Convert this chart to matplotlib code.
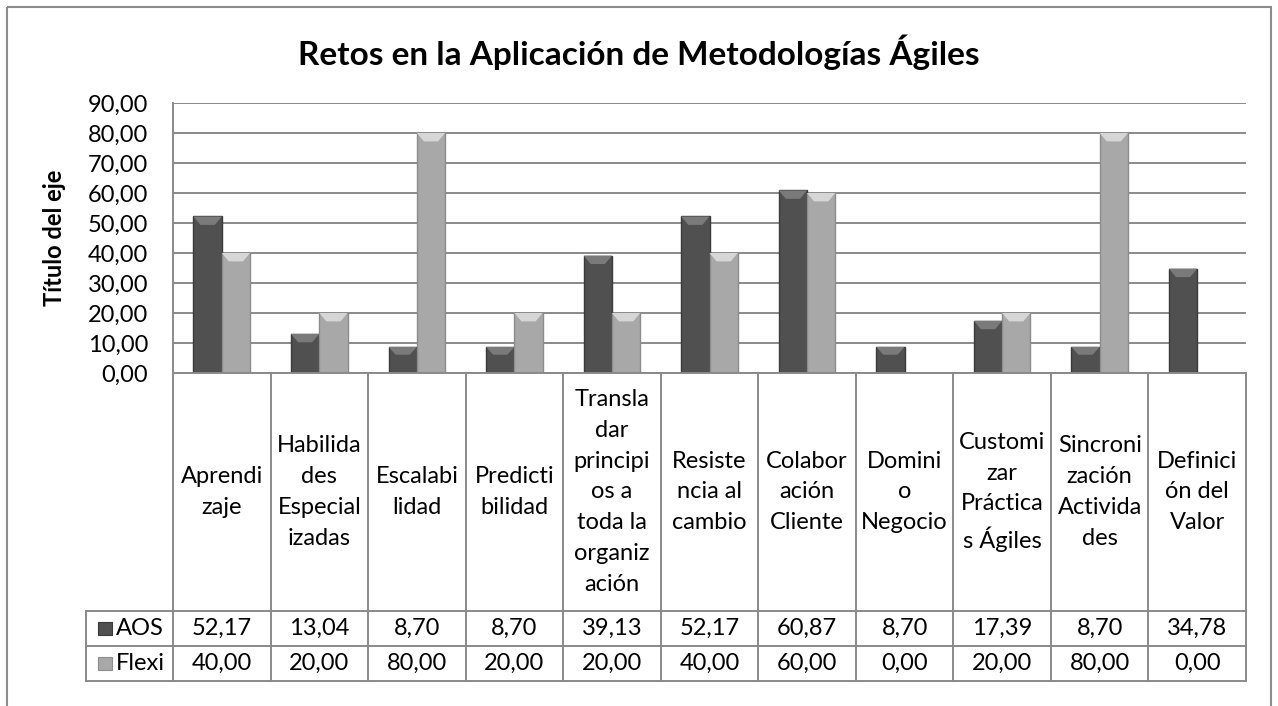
import numpy as np
import matplotlib.pyplot as plt
from matplotlib.patches import Rectangle, Polygon

plt.rcParams['font.family'] = ['Lato', 'DejaVu Sans']

categories = ["Aprendi\nzaje", "Habilida\ndes\nEspecial\nizadas", "Escalabi\nlidad",
              "Predicti\nbilidad", "Transla\ndar\nprincipi\nos a\ntoda la\norganiz\nación",
              "Resiste\nncia al\ncambio", "Colabor\nación\nCliente", "Domini\no\nNegocio",
              "Customi\nzar\nPráctica\ns Ágiles", "Sincroni\nzación\nActivida\ndes",
              "Definici\nón del\nValor"]
series_names = ["AOS", "Flexi"]
aos = [52.17, 13.04, 8.70, 8.70, 39.13, 52.17, 60.87, 8.70, 17.39, 8.70, 34.78]
flexi = [40.00, 20.00, 80.00, 20.00, 20.00, 40.00, 60.00, 0.00, 20.00, 80.00, 0.00]
yticks = np.arange(0, 91, 10)

colors = ["#505050", "#a8a8a8"]
edges = ["#3a3a3a", "#8c8c8c"]
tops = ["#7a7a7a", "#d6d6d6"]
line_col = "#8a8a8a"
fs = 17

W, H = 1278, 706
fig = plt.figure(figsize=(W / 100, H / 100), dpi=100)

# plot area (pixel layout of the reference)
px_l, px_r, px_t, px_b = 173, 1246, 103, 373
ax = fig.add_axes([px_l / W, 1 - px_b / H, (px_r - px_l) / W, (px_b - px_t) / H])
n = len(categories)
x = np.arange(n)
ax.set_xlim(-0.5, n - 0.5)
ax.set_ylim(0, 90)
ax.set_yticks(yticks)
ax.set_yticklabels([f"{v:.2f}".replace(".", ",") for v in yticks], fontsize=fs)
ax.tick_params(axis="y", length=0, pad=18)
ax.set_xticks([])
ax.grid(axis="y", color=line_col, linewidth=1.4)
ax.set_axisbelow(True)
for s in ["top", "right", "bottom"]:
    ax.spines[s].set_visible(False)
ax.spines["left"].set_color(line_col)
ax.spines["left"].set_linewidth(1.4)

bw = 0.29
for i, vals in enumerate([aos, flexi]):
    off = (i - 0.5) * bw
    bars = ax.bar(x + off, vals, bw, color=colors[i], edgecolor=edges[i],
                  linewidth=1, zorder=3)
    # bevelled top, like the Excel 3D style
    for b in bars:
        h = b.get_height()
        if h <= 0:
            continue
        x0, w = b.get_x(), b.get_width()
        bev = min(2.8, h * 0.3)
        ax.add_patch(Polygon([(x0, h), (x0 + w, h), (x0 + w * 0.75, h - bev),
                              (x0 + w * 0.25, h - bev)], closed=True,
                             facecolor=tops[i], edgecolor="none", zorder=4))

fig.text(55 / W, 1 - 238 / H, "Título del eje", rotation=90, ha="center", va="center",
         fontsize=17, fontweight="bold")

fig.text(0.5, 1 - 52 / H, "Retos en la Aplicación de Metodologías Ágiles",
         ha="center", va="center", fontsize=24, fontweight="bold")

# overlay in pixel coordinates for the data table
ov = fig.add_axes([0, 0, 1, 1], zorder=5)
ov.set_xlim(0, W)
ov.set_ylim(H, 0)
ov.axis("off")
ov.patch.set_visible(False)

# outer chart border
ov.add_patch(Rectangle((7, 7), 1264, 720, fill=False, edgecolor="#8c8c8c", linewidth=1.5))

col_edges = [ax.transData.transform((i - 0.5, 0))[0] for i in range(n + 1)]
row_cat_bot, row1_bot, row2_bot = 611, 646, 681
leg_l = 86
lw = 1.4
for xe in col_edges:
    ov.plot([xe, xe], [px_b, row2_bot], color=line_col, lw=lw)
ov.plot([leg_l, leg_l], [row_cat_bot, row2_bot], color=line_col, lw=lw)
for yy in [row_cat_bot, row1_bot, row2_bot]:
    ov.plot([leg_l, col_edges[-1]], [yy, yy], color=line_col, lw=lw)
ov.plot([col_edges[0], col_edges[-1]], [px_b, px_b], color=line_col, lw=lw)

for i, lab in enumerate(categories):
    xc = (col_edges[i] + col_edges[i + 1]) / 2
    ov.text(xc, (px_b + row_cat_bot) / 2, lab, ha="center", va="center",
            fontsize=fs, linespacing=1.57)
    ov.text(xc, (row_cat_bot + row1_bot) / 2, f"{aos[i]:.2f}".replace(".", ","),
            ha="center", va="center", fontsize=fs)
    ov.text(xc, (row1_bot + row2_bot) / 2, f"{flexi[i]:.2f}".replace(".", ","),
            ha="center", va="center", fontsize=fs)

for j, (y0, y1) in enumerate([(row_cat_bot, row1_bot), (row1_bot, row2_bot)]):
    yc = (y0 + y1) / 2
    ov.add_patch(Rectangle((98, yc - 6.5), 14, 13, facecolor=colors[j],
                           edgecolor=edges[j], linewidth=0.8))
    ov.text(116, yc, series_names[j], ha="left", va="center", fontsize=fs)

fig.savefig("out.png", dpi=100)
